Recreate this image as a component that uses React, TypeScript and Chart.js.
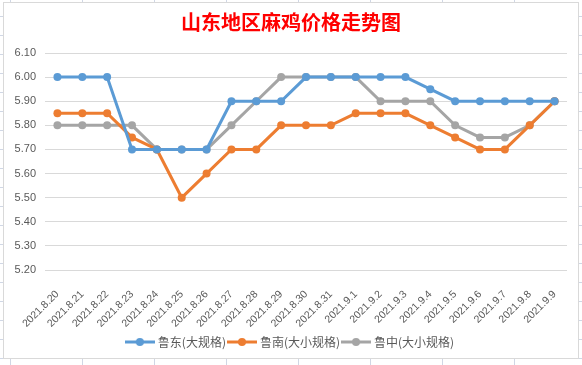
import { useEffect, useRef } from 'react';
import { Chart, registerables } from 'chart.js';

Chart.register(...registerables);

const chartTitle = '山东地区麻鸡价格走势图';
const categories = [
  '2021.8.20', '2021.8.21', '2021.8.22', '2021.8.23', '2021.8.24', '2021.8.25', '2021.8.26',
  '2021.8.27', '2021.8.28', '2021.8.29', '2021.8.30', '2021.8.31', '2021.9.1', '2021.9.2',
  '2021.9.3', '2021.9.4', '2021.9.5', '2021.9.6', '2021.9.7', '2021.9.8', '2021.9.9',
];
const seriesNames = ['鲁东(大规格)', '鲁南(大小规格)', '鲁中(大小规格)'];
const ludong = [6.0, 6.0, 6.0, 5.7, 5.7, 5.7, 5.7, 5.9, 5.9, 5.9, 6.0, 6.0, 6.0, 6.0, 6.0, 5.95, 5.9, 5.9, 5.9, 5.9, 5.9];
const lunan = [5.85, 5.85, 5.85, 5.75, 5.7, 5.5, 5.6, 5.7, 5.7, 5.8, 5.8, 5.8, 5.85, 5.85, 5.85, 5.8, 5.75, 5.7, 5.7, 5.8, 5.9];
const luzhong = [5.8, 5.8, 5.8, 5.8, 5.7, 5.7, 5.7, 5.8, 5.9, 6.0, 6.0, 6.0, 6.0, 5.9, 5.9, 5.9, 5.8, 5.75, 5.75, 5.8, 5.9];
const seriesColors = ['#5B9BD5', '#ED7D31', '#A5A5A5'];
const yMin = 5.2;
const yMax = 6.1;
const yStep = 0.1;

function makeIcon(color: string): HTMLCanvasElement {
  const c = document.createElement('canvas');
  c.width = 30;
  c.height = 10;
  const ctx = c.getContext('2d')!;
  ctx.strokeStyle = color;
  ctx.lineWidth = 3;
  ctx.beginPath();
  ctx.moveTo(0, 5);
  ctx.lineTo(30, 5);
  ctx.stroke();
  ctx.fillStyle = color;
  ctx.beginPath();
  ctx.arc(15, 5, 4, 0, Math.PI * 2);
  ctx.fill();
  return c;
}

const sheetPlugin = {
  id: 'sheetBackground',
  beforeDraw(chart: any) {
    const { ctx, width, height } = chart;
    ctx.save();
    ctx.fillStyle = '#ffffff';
    ctx.fillRect(0, 0, width, height);
    ctx.strokeStyle = '#d0d7e5';
    ctx.lineWidth = 1;
    ctx.beginPath();
    for (let x = 10.5; x < width; x += 72) {
      ctx.moveTo(x, 0);
      ctx.lineTo(x, 2);
      ctx.moveTo(x, 359);
      ctx.lineTo(x, height);
    }
    for (let y = 15.5; y < height; y += 19.05) {
      ctx.moveTo(0, Math.round(y) + 0.5);
      ctx.lineTo(3, Math.round(y) + 0.5);
      ctx.moveTo(579, Math.round(y) + 0.5);
      ctx.lineTo(width, Math.round(y) + 0.5);
    }
    ctx.stroke();
    ctx.strokeStyle = '#d9d9d9';
    ctx.strokeRect(3.5, 2.5, 575, 356);
    ctx.restore();
  },
};

export default function App() {
  const ref = useRef<HTMLCanvasElement>(null);
  useEffect(() => {
    document.body.style.margin = '0';
    const canvas = ref.current!;
    const data = [ludong, lunan, luzhong];
    const icons = seriesColors.map(makeIcon);
    const chart = new Chart(canvas, {
      type: 'line',
      data: {
        labels: categories,
        datasets: seriesNames.map((name, i) => ({
          label: name,
          data: data[i],
          borderColor: seriesColors[i],
          backgroundColor: seriesColors[i],
          pointBackgroundColor: seriesColors[i],
          pointBorderColor: seriesColors[i],
          borderWidth: 3,
          pointRadius: 4,
          pointBorderWidth: 0,
          tension: 0,
          yAxisID: 'y',
        })),
      },
      options: {
        responsive: false,
        animation: false,
        devicePixelRatio: 1,
        layout: { padding: { left: 0, right: 0, top: 0, bottom: 7 } },
        plugins: {
          title: {
            display: true,
            text: chartTitle,
            color: '#FF0000',
            font: { family: '"Noto Sans CJK SC", sans-serif', size: 20, weight: 'bold', lineHeight: 1.2 },
            padding: { top: 10, bottom: 19 },
          },
          legend: {
            position: 'bottom',
            labels: {
              color: '#595959',
              font: { family: '"Noto Sans CJK SC", sans-serif', size: 12 },
              usePointStyle: true,
              pointStyleWidth: 24,
              padding: 4,
              generateLabels: (ch: any) =>
                ch.data.datasets.map((ds: any, i: number) => ({
                  text: ds.label,
                  fillStyle: seriesColors[i],
                  strokeStyle: seriesColors[i],
                  lineWidth: 0,
                  pointStyle: icons[i],
                  datasetIndex: i,
                  hidden: false,
                  fontColor: '#595959',
                })),
            },
          },
          tooltip: { enabled: false },
        },
        scales: {
          x: {
            offset: true,
            grid: { display: false },
            border: { display: false },
            ticks: {
              color: '#595959',
              font: { family: '"Liberation Sans", Arial, sans-serif', size: 10.5 },
              minRotation: 45,
              maxRotation: 45,
              autoSkip: false,
              padding: 10,
            },
            afterFit: (s: any) => { s.height = 62; },
          },
          y: {
            min: yMin,
            max: yMax,
            grid: { color: '#D9D9D9', drawTicks: false, lineWidth: 1 },
            border: { display: false },
            ticks: {
              stepSize: yStep,
              color: '#595959',
              font: { family: '"Liberation Sans", Arial, sans-serif', size: 11 },
              padding: 9,
              callback: (v: any) => Number(v).toFixed(2),
            },
            afterFit: (s: any) => { s.width = 45; },
          },
          y2: {
            position: 'right',
            display: true,
            grid: { display: false },
            border: { display: false },
            ticks: { display: false },
            afterFit: (s: any) => { s.width = 15; },
          },
        },
      },
      plugins: [sheetPlugin],
    });
    return () => chart.destroy();
  }, []);
  return (
    <div style={{ width: 582, height: 365 }}>
      <canvas ref={ref} width={582} height={365} />
    </div>
  );
}
